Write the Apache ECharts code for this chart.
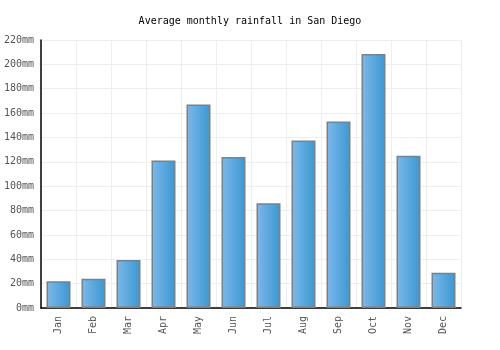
<!DOCTYPE html>
<html>
<head>
<meta charset="utf-8">
<script src="https://cdn.jsdelivr.net/npm/echarts@6/dist/echarts.min.js"></script>
<style>
  html, body { margin: 0; padding: 0; background: #fff; }
  #chart { width: 500px; height: 350px; }
</style>
</head>
<body>
<div id="chart"></div>
<script>
var months = ['Jan', 'Feb', 'Mar', 'Apr', 'May', 'Jun', 'Jul', 'Aug', 'Sep', 'Oct', 'Nov', 'Dec'];
var rainfall = [22, 24, 39.5, 121, 167, 124, 86, 137.5, 153, 208.5, 125, 29];
var yTicks = [0, 20, 40, 60, 80, 100, 120, 140, 160, 180, 200, 220];

var myChart = echarts.init(document.getElementById('chart'));

var font = 'DejaVu Sans Mono';

var option = {
  backgroundColor: '#fff',
  animation: false,
  title: {
    text: 'Average monthly rainfall in San Diego',
    left: 'center',
    top: 11,
    textStyle: { fontFamily: font, fontSize: 10, fontWeight: 'normal', color: '#000' }
  },
  grid: { left: 41, right: 39, top: 40, bottom: 42 },
  xAxis: {
    type: 'category',
    data: months,
    axisLine: { lineStyle: { color: '#000', width: 1.5 } },
    axisTick: { show: false },
    splitLine: { show: true, lineStyle: { color: '#eeeeee' } },
    axisLabel: {
      rotate: 90,
      margin: 8,
      fontFamily: font, fontSize: 10, color: '#555'
    }
  },
  yAxis: {
    type: 'value',
    min: yTicks[0],
    max: yTicks[yTicks.length - 1],
    interval: 20,
    axisLine: { show: true, lineStyle: { color: '#000', width: 1.5 } },
    axisTick: { show: false },
    splitLine: { lineStyle: { color: '#eeeeee' } },
    axisLabel: {
      margin: 7,
      fontFamily: font, fontSize: 10, color: '#555',
      formatter: '{value}mm'
    }
  },
  series: [{
    type: 'bar',
    data: rainfall,
    barWidth: 24,
    itemStyle: {
      borderColor: '#808080',
      borderWidth: 1.5,
      color: new echarts.graphic.LinearGradient(0, 0, 1, 0, [
        { offset: 0, color: '#7db9ec' },
        { offset: 1, color: '#3a97d0' }
      ])
    }
  }]
};
myChart.setOption(option);
</script>
</body>
</html>
